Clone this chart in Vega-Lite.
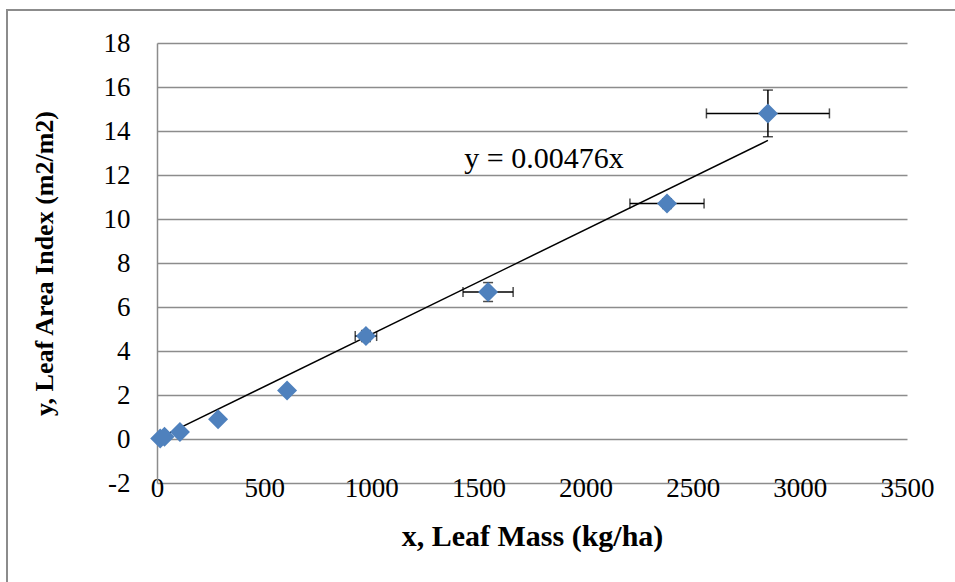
{
  "$schema": "https://vega.github.io/schema/vega-lite/v6.json",
  "autosize": {"type": "none"},
  "width": 750,
  "height": 440,
  "padding": {"left": 157, "top": 43, "right": 48, "bottom": 99},
  "background": "white",
  "config": {
    "view": {"stroke": null},
    "font": "Liberation Serif",
    "axis": {"labelFont": "Liberation Serif", "titleFont": "Liberation Serif", "labelColor": "black", "titleColor": "black"}
  },
  "datasets": {
    "points": [
      {"x": 15, "y": 0.02},
      {"x": 35, "y": 0.1},
      {"x": 107, "y": 0.32},
      {"x": 285, "y": 0.9},
      {"x": 607, "y": 2.2},
      {"x": 975, "y": 4.68},
      {"x": 1545, "y": 6.68},
      {"x": 2380, "y": 10.7},
      {"x": 2851, "y": 14.8}
    ],
    "bars": [
      {"x": 975, "y": 4.68, "xlo": 925, "xhi": 1025, "ylo": 4.43, "yhi": 4.93},
      {"x": 1545, "y": 6.68, "xlo": 1428, "xhi": 1662, "ylo": 6.25, "yhi": 7.11},
      {"x": 2380, "y": 10.7, "xlo": 2207, "xhi": 2553, "ylo": 10.48, "yhi": 10.92},
      {"x": 2851, "y": 14.8, "xlo": 2564, "xhi": 3138, "ylo": 13.74, "yhi": 15.86}
    ],
    "trend": [
      {"x": 25, "y": 0.119},
      {"x": 2851, "y": 13.571}
    ],
    "frame": [
      {"x1": -700, "x2": 3900, "y1": 19.5, "y2": -9}
    ],
    "label": [
      {"x": 1806, "y": 12.75, "text": "y = 0.00476x"}
    ]
  },
  "encoding": {
    "x": {"type": "quantitative", "scale": {"domain": [0, 3500], "nice": false, "zero": false}},
    "y": {"type": "quantitative", "scale": {"domain": [-2, 18], "nice": false, "zero": false}}
  },
  "layer": [
    {
      "data": {"name": "frame"},
      "mark": {"type": "rect", "fill": null, "stroke": "#8c8c8c", "strokeWidth": 2, "clip": false},
      "encoding": {
        "x": {"field": "x1", "type": "quantitative", "axis": {
          "title": "x, Leaf Mass (kg/ha)", "titleFontSize": 30, "titleFontWeight": "bold", "titlePadding": 20,
          "values": [0, 500, 1000, 1500, 2000, 2500, 3000, 3500], "labelExpr": "'' + datum.value", "labelFontSize": 27, "labelPadding": 5, "labelBaseline": "middle",
          "ticks": false, "tickSize": 0, "domain": false, "grid": false, "labelFlush": false, "labelOverlap": false
        }},
        "x2": {"field": "x2"},
        "y": {"field": "y1", "type": "quantitative", "axis": {
          "title": "y, Leaf Area Index (m2/m2)", "titleFontSize": 26, "titleFontWeight": "bold", "titlePadding": 46,
          "values": [-2, 0, 2, 4, 6, 8, 10, 12, 14, 16, 18], "labelExpr": "'' + datum.value", "labelFontSize": 27, "labelPadding": 27,
          "ticks": false, "tickSize": 0, "domain": true, "domainColor": "#8c8c8c", "domainWidth": 1.5,
          "grid": true, "gridColor": "#8c8c8c", "gridWidth": 1.5, "gridOpacity": 1, "labelFlush": false, "labelOverlap": false
        }},
        "y2": {"field": "y2"}
      }
    },
    {
      "data": {"name": "trend"},
      "mark": {"type": "line", "color": "black", "strokeWidth": 1.5},
      "encoding": {"x": {"field": "x"}, "y": {"field": "y"}}
    },
    {
      "data": {"name": "bars"},
      "mark": {"type": "rule", "color": "black", "strokeWidth": 1.5},
      "encoding": {"x": {"field": "xlo"}, "x2": {"field": "xhi"}, "y": {"field": "y"}}
    },
    {
      "data": {"name": "bars"},
      "mark": {"type": "rule", "color": "black", "strokeWidth": 1.5},
      "encoding": {"x": {"field": "x"}, "y": {"field": "ylo"}, "y2": {"field": "yhi"}}
    },
    {
      "data": {"name": "bars"},
      "mark": {"type": "tick", "color": "black", "orient": "vertical", "size": 10, "thickness": 1.5},
      "encoding": {"x": {"field": "xlo"}, "y": {"field": "y"}}
    },
    {
      "data": {"name": "bars"},
      "mark": {"type": "tick", "color": "black", "orient": "vertical", "size": 10, "thickness": 1.5},
      "encoding": {"x": {"field": "xhi"}, "y": {"field": "y"}}
    },
    {
      "data": {"name": "bars"},
      "mark": {"type": "tick", "color": "black", "orient": "horizontal", "size": 10, "thickness": 1.5},
      "encoding": {"x": {"field": "x"}, "y": {"field": "ylo"}}
    },
    {
      "data": {"name": "bars"},
      "mark": {"type": "tick", "color": "black", "orient": "horizontal", "size": 10, "thickness": 1.5},
      "encoding": {"x": {"field": "x"}, "y": {"field": "yhi"}}
    },
    {
      "data": {"name": "points"},
      "mark": {"type": "point", "shape": "diamond", "filled": true, "color": "#4F81BD", "opacity": 1, "size": 400},
      "encoding": {"x": {"field": "x"}, "y": {"field": "y"}}
    },
    {
      "data": {"name": "label"},
      "mark": {"type": "text", "font": "Liberation Serif", "fontSize": 30, "color": "black", "align": "center", "baseline": "middle"},
      "encoding": {"x": {"field": "x"}, "y": {"field": "y"}, "text": {"field": "text"}}
    }
  ]
}
